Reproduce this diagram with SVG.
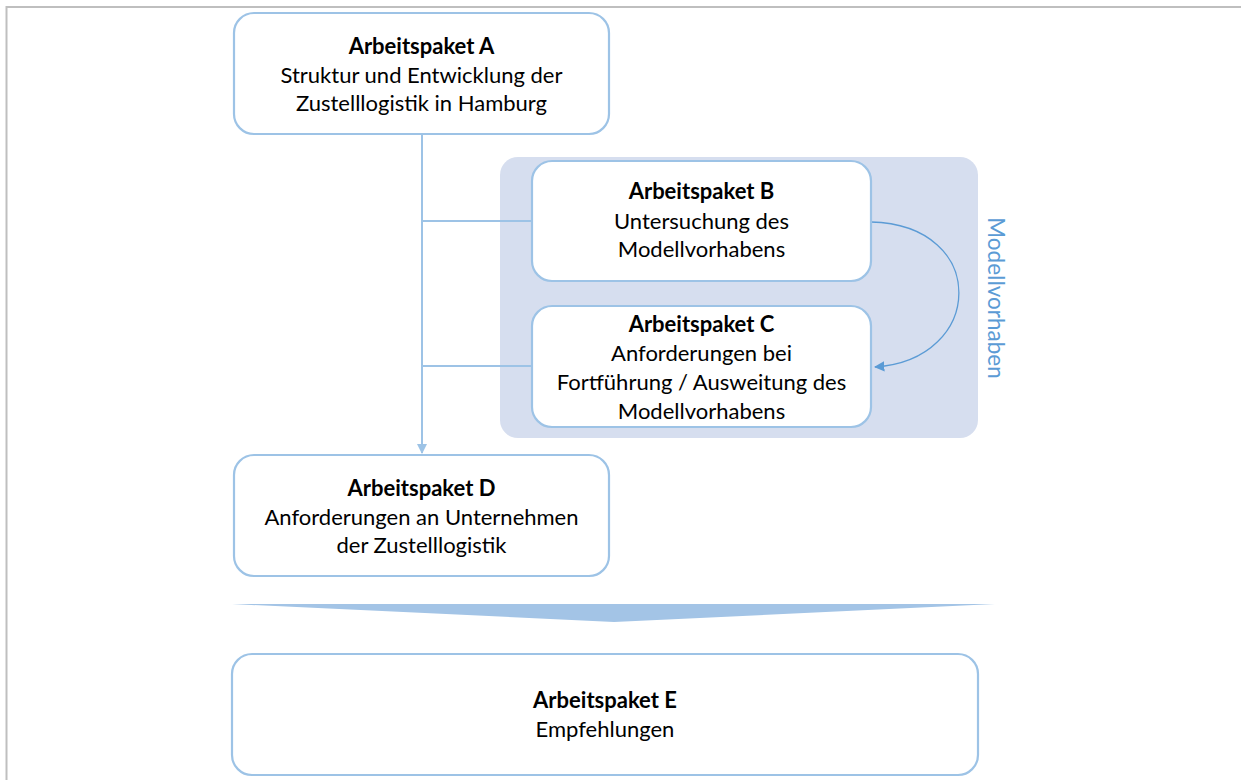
<svg xmlns="http://www.w3.org/2000/svg" width="1241" height="780" viewBox="0 0 1241 780">
<defs>
<style>
.box{fill:#ffffff;stroke:#9dc3e6;stroke-width:2.2}
.t{font-family:Lato,"Liberation Sans",sans-serif;font-size:22px;fill:#000;text-anchor:middle}
.b{font-weight:bold}
.conn{stroke:#9dc3e6;stroke-width:2;fill:none}
</style>
<marker id="ah" viewBox="0 0 10 10" refX="9" refY="5" markerWidth="5" markerHeight="5" orient="auto">
<path d="M0,0 L10,5 L0,10 z" fill="#9dc3e6"/>
</marker>
<marker id="ah2" viewBox="0 0 10 10" refX="9" refY="5" markerWidth="8" markerHeight="8" orient="auto">
<path d="M0,0 L10,5 L0,10 z" fill="#5b9bd5"/>
</marker>
</defs>
<rect x="0" y="0" width="1241" height="780" fill="#ffffff"/>
<path d="M6.5,780 V7 H1241" fill="none" stroke="#bfbfbf" stroke-width="2"/>

<g id="modellvorhaben">
<rect x="500" y="157" width="478" height="281" rx="18" fill="#d6deef"/>
<text transform="translate(988,298) rotate(90)" style="font-family:Lato,'Liberation Sans',sans-serif;font-size:22.5px;fill:#5b9bd5;text-anchor:middle">Modellvorhaben</text>
</g>

<g id="connectors">
<path class="conn" d="M422,134 V453" marker-end="url(#ah)"/>
<path class="conn" d="M422,221 H532"/>
<path class="conn" d="M422,366 H532"/>
<path d="M871,222 C990,225 985,360 875,367" fill="none" stroke="#5b9bd5" stroke-width="1.3" marker-end="url(#ah2)"/>
</g>

<g id="nodeA">
<rect class="box" x="234" y="13" width="375" height="121" rx="20"/>
<text class="t b" x="421.5" y="54">Arbeitspaket A</text>
<text class="t" x="421.5" y="83">Struktur und Entwicklung der</text>
<text class="t" x="421.5" y="111">Zustelllogistik in Hamburg</text>
</g>

<g id="nodeB">
<rect class="box" x="532" y="161" width="339" height="120" rx="20"/>
<text class="t b" x="701.5" y="199">Arbeitspaket B</text>
<text class="t" x="701.5" y="229">Untersuchung des</text>
<text class="t" x="701.5" y="257">Modellvorhabens</text>
</g>

<g id="nodeC">
<rect class="box" x="532" y="306" width="339" height="121" rx="20"/>
<text class="t b" x="701.5" y="332">Arbeitspaket C</text>
<text class="t" x="701.5" y="361">Anforderungen bei</text>
<text class="t" x="701.5" y="390">Fortführung / Ausweitung des</text>
<text class="t" x="701.5" y="419">Modellvorhabens</text>
</g>

<g id="nodeD">
<rect class="box" x="234" y="455" width="375" height="121" rx="20"/>
<text class="t b" x="421.5" y="496">Arbeitspaket D</text>
<text class="t" x="421.5" y="525">Anforderungen an Unternehmen</text>
<text class="t" x="421.5" y="553">der Zustelllogistik</text>
</g>

<g id="chevron">
<polygon points="232,604 995,604 614,622" fill="#a3c4e6"/>
</g>

<g id="nodeE">
<rect class="box" x="232" y="654" width="746" height="121" rx="20"/>
<text class="t b" x="605" y="708">Arbeitspaket E</text>
<text class="t" x="605" y="737">Empfehlungen</text>
</g>
</svg>
